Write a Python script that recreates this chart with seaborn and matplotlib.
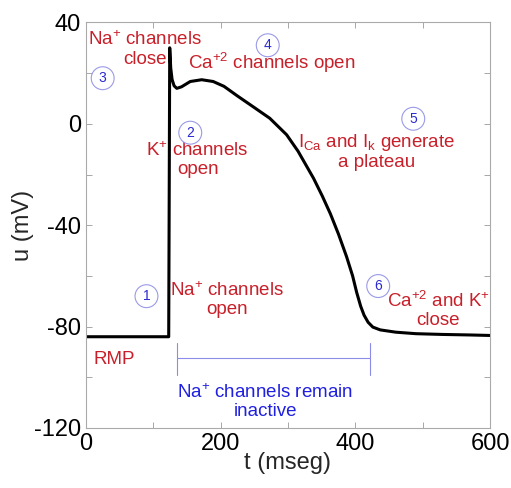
import numpy as np
import pandas as pd
import matplotlib
matplotlib.use('Agg')
import matplotlib.pyplot as plt
import seaborn as sns

# action potential trace
t_ms = [0, 60, 123, 124.5, 126, 128, 131, 135, 142, 155, 172, 189, 205, 225, 248,
        273, 298, 315, 338, 351, 363, 375, 387, 396, 402, 408, 413, 419, 426, 437,
        460, 490, 530, 570, 600]
u_mv = [-84, -84, -84, 30, 22, 17.5, 15, 14, 14.6, 16.7, 17.4, 16.7, 14.8, 11, 6.8,
        2.2, -4.3, -10.8, -21.5, -28.5, -35.5, -43.5, -52.4, -60, -66.5, -72, -75.5,
        -78.3, -80.2, -81.3, -82.2, -82.8, -83.1, -83.3, -83.5]

xticks = [0, 100, 200, 300, 400, 500, 600]
xticklabels = ['0', '', '200', '', '400', '', '600']
yticks = [-120, -100, -80, -60, -40, -20, 0, 20, 40]
yticklabels = ['-120', '', '-80', '', '-40', '', '0', '', '40']

# red notes: (t, u, text)
notes = [
    (88, 29.5, 'Na$^{+}$ channels\nclose'),
    (276, 24, 'Ca$^{+2}$ channels open'),
    (166, -14, 'K$^{+}$ channels\nopen'),
    (432, -11, 'I$_{Ca}$ and I$_{k}$ generate\na plateau'),
    (210, -69.5, 'Na$^{+}$ channels\nopen'),
    (523, -73.5, 'Ca$^{+2}$ and K$^{+}$\nclose'),
    (42, -93, 'RMP'),
]
# circled step numbers
steps = ['1', '2', '3', '4', '5', '6']
step_t = [90, 155, 25, 270, 486, 434]
step_u = [-68, -3.5, 18, 31, 2, -64]

# Na channels inactive span
span_start, span_end, span_u = 135, 422, -92.5

sns.set_style('white')
plt.rcParams['font.family'] = ['Liberation Sans', 'DejaVu Sans']
plt.rcParams['mathtext.default'] = 'regular'

df = pd.DataFrame({'t': t_ms, 'u': u_mv})

fig = plt.figure(figsize=(5.11, 4.88), dpi=100)
ax = fig.add_axes([0.168, 0.123, 0.791, 0.831])
sns.lineplot(data=df, x='t', y='u', color='black', lw=2.2, ax=ax)

red = '#c8202a'
for tx, uy, s in notes:
    ax.text(tx, uy, s, color=red, fontsize=13.5, ha='center', va='center',
            linespacing=1.1)

for s, tx, uy in zip(steps, step_t, step_u):
    ax.text(tx, uy, s, color='#2a2ad0', fontsize=10, ha='center', va='center',
            bbox=dict(boxstyle='circle,pad=0.32', fc='none', ec='#9a9ae8', lw=0.8))

ax.plot([span_start, span_end], [span_u, span_u], color='#8c8ce8', lw=0.8)
ax.plot([span_start, span_start], [-86.5, -99], color='#8c8ce8', lw=0.8)
ax.plot([span_end, span_end], [-86.5, -99], color='#8c8ce8', lw=0.8)
ax.text((span_start + span_end) / 2 - 12, -109.5, 'Na$^{+}$ channels remain\ninactive',
        color='#2020e0', fontsize=13.5, ha='center', va='center', linespacing=1.1)

ax.set_xlim(0, 600)
ax.set_ylim(-120, 40)
ax.set_xticks(xticks)
ax.set_xticklabels(xticklabels)
ax.set_yticks(yticks)
ax.set_yticklabels(yticklabels)
ax.tick_params(direction='in', length=4, width=0.6, colors='#999999',
               labelcolor='black', labelsize=17, top=True, right=True,
               bottom=True, left=True)
for sp in ax.spines.values():
    sp.set_visible(True)
    sp.set_color('#aaaaaa')
    sp.set_linewidth(0.8)
ax.set_xlabel('t (mseg)', fontsize=17, labelpad=-2)
ax.set_ylabel('u (mV)', fontsize=17, labelpad=0)

fig.savefig('out.png', dpi=100)
